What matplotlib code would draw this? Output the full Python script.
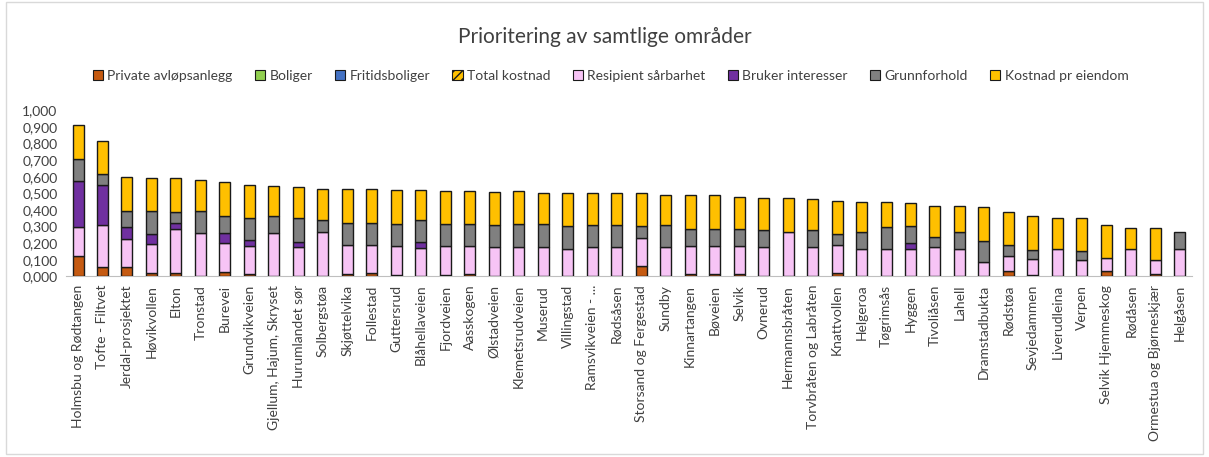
import numpy as np
import matplotlib.pyplot as plt
from matplotlib.ticker import FuncFormatter
from matplotlib.patches import Rectangle

plt.rcParams['font.family'] = ['Lato', 'DejaVu Sans']

areas = [
    "Holmsbu og Rødtangen", "Tofte - Filtvet", "Jerdal-prosjektet", "Høvikvollen",
    "Elton", "Tronstad", "Burevei", "Grundvikveien", "Gjellum, Hajum, Skryset",
    "Hurumlandet sør", "Solbergstøa", "Skjøttelvika", "Follestad", "Guttersrud",
    "Blåhellaveien", "Fjordveien", "Aasskogen", "Ølstadveien", "Klemetsrudveien",
    "Muserud", "Villingstad", "Ramsvikveien - ...", "Rødsåsen", "Storsand og Fergestad",
    "Sundby", "Kinnartangen", "Bøveien", "Selvik", "Ovnerud", "Hermannsbråten",
    "Torvbråten og Labråten", "Knattvollen", "Helgeroa", "Tøgrimsås", "Hyggen",
    "Tivoliåsen", "Lahell", "Dramstadbukta", "Rødstøa", "Sevjedammen", "Liverudleina",
    "Verpen", "Selvik Hjemmeskog", "Rødåsen", "Ormestua og Bjørneskjær", "Helgåsen",
]

private_avlop = [0.123, 0.055, 0.055, 0.020, 0.020, 0, 0.028, 0.014, 0, 0,
                 0, 0.015, 0.020, 0.010, 0, 0.010, 0.015, 0, 0, 0,
                 0, 0, 0, 0.065, 0, 0.012, 0.012, 0.012, 0, 0,
                 0, 0.020, 0, 0, 0, 0, 0, 0, 0.035, 0.010,
                 0, 0, 0.030, 0, 0.015, 0]
boliger = [0] * 46
fritidsboliger = [0] * 46
total_kostnad = [0] * 46
resipient = [0.176, 0.252, 0.168, 0.173, 0.265, 0.261, 0.171, 0.171, 0.263, 0.178,
             0.266, 0.176, 0.171, 0.176, 0.170, 0.176, 0.171, 0.177, 0.177, 0.177,
             0.167, 0.177, 0.177, 0.166, 0.177, 0.174, 0.174, 0.174, 0.177, 0.269,
             0.177, 0.171, 0.167, 0.167, 0.167, 0.177, 0.167, 0.090, 0.089, 0.095,
             0.167, 0.100, 0.080, 0.167, 0.085, 0.167]
bruker = [0.274, 0.243, 0.072, 0.060, 0.035, 0, 0.064, 0.034, 0, 0.030,
          0, 0, 0, 0, 0.036, 0, 0, 0, 0, 0,
          0, 0, 0, 0, 0, 0, 0, 0, 0, 0,
          0, 0, 0, 0, 0.032, 0, 0, 0, 0, 0,
          0, 0, 0, 0, 0, 0]
grunnforhold = [0.131, 0.064, 0.100, 0.142, 0.067, 0.134, 0.100, 0.131, 0.100, 0.142,
                0.073, 0.132, 0.132, 0.129, 0.133, 0.129, 0.129, 0.130, 0.138, 0.138,
                0.134, 0.130, 0.130, 0.070, 0.130, 0.100, 0.100, 0.100, 0.100, 0,
                0.100, 0.062, 0.102, 0.132, 0.102, 0.063, 0.102, 0.125, 0.067, 0.054,
                0, 0.053, 0, 0, 0, 0.102]
kostnad_eiendom = [0.206, 0.200, 0.205, 0.195, 0.203, 0.186, 0.205, 0.200, 0.180, 0.190,
                   0.187, 0.203, 0.203, 0.205, 0.181, 0.197, 0.197, 0.202, 0.197, 0.188,
                   0.202, 0.196, 0.196, 0.202, 0.182, 0.201, 0.201, 0.193, 0.194, 0.200,
                   0.187, 0.202, 0.178, 0.148, 0.139, 0.185, 0.156, 0.202, 0.196, 0.205,
                   0.183, 0.197, 0.200, 0.127, 0.194, 0]

series = [
    ("Private avløpsanlegg", private_avlop, "#C55A11", None),
    ("Boliger", boliger, "#92D050", None),
    ("Fritidsboliger", fritidsboliger, "#4472C4", None),
    ("Total kostnad", total_kostnad, "#FFC000", "////"),
    ("Resipient sårbarhet", resipient, "#F7C4F5", None),
    ("Bruker interesser", bruker, "#7030A0", None),
    ("Grunnforhold", grunnforhold, "#808080", None),
    ("Kostnad pr eiendom", kostnad_eiendom, "#FFC000", None),
]

fig = plt.figure(figsize=(12.09, 4.57), dpi=100)
ax = fig.add_axes([0.0544, 0.395, 0.9316, 0.364])

x = np.arange(len(areas))
bottom = np.zeros(len(areas))
handles = []
for name, vals, color, hatch in series:
    vals = np.array(vals, dtype=float)
    keep = vals > 0  # skip empty segments so no stray edge lines
    ax.bar(x[keep], vals[keep], 0.45, bottom=bottom[keep], color=color,
           edgecolor="#1a1a1a", linewidth=1.0, zorder=3)
    bottom += vals
    handles.append(Rectangle((0, 0), 1, 1, facecolor=color, edgecolor="#1a1a1a",
                             linewidth=0.8, hatch=hatch))

ax.set_xlim(-0.5, len(areas) - 0.5)
ax.set_ylim(0, 1.0)
ax.set_yticks(np.arange(0, 1.01, 0.1))
ax.yaxis.set_major_formatter(FuncFormatter(lambda v, p: f"{v:.3f}".replace(".", ",")))
ax.set_xticks(x)
ax.set_xticklabels(areas, rotation=90, fontsize=10, color="#404040")
ax.tick_params(axis="y", labelsize=10, labelcolor="#404040", length=0, pad=6)
ax.tick_params(axis="x", length=0, pad=6)
for s in ["top", "right", "left"]:
    ax.spines[s].set_visible(False)
ax.spines["bottom"].set_color("#BFBFBF")

fig.suptitle("Prioritering av samtlige områder", x=0.5, y=0.94, fontsize=15, color="#404040")
fig.legend(handles, [s[0] for s in series], loc="center", bbox_to_anchor=(0.505, 0.834),
           ncol=8, frameon=False, fontsize=10, handlelength=0.75, handleheight=0.75,
           handletextpad=0.3, columnspacing=1.6, labelcolor="#404040")

fig.patches.append(Rectangle((0.005, 0.006), 0.99, 0.99, transform=fig.transFigure,
                             fill=False, edgecolor="#D9D9D9", linewidth=1))

fig.savefig("out.png", dpi=100)
